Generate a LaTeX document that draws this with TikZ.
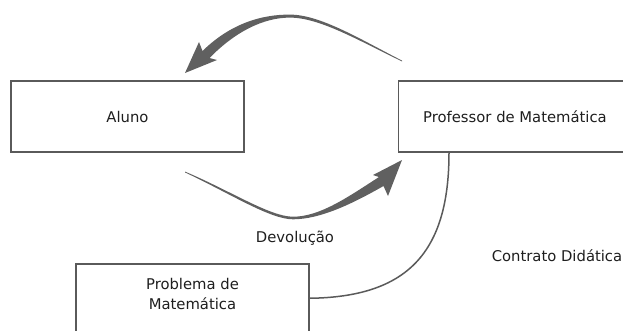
\documentclass[tikz,border=0pt]{standalone}
\usepackage{fontspec}
\setmainfont{DejaVu Sans}
\usetikzlibrary{positioning}
\definecolor{linegray}{HTML}{5A5A5A}
\definecolor{arrowgray}{HTML}{606060}
\definecolor{textgray}{HTML}{1E1E1E}

\begin{document}
\begin{tikzpicture}[x=1pt, y=-1pt, font=\fontsize{14.8}{18}\selectfont, text=textgray, box/.style={draw=linegray, line width=1.5pt, minimum width=233pt, minimum height=71pt}, label/.style={inner sep=0pt}]
\clip (0,0) rectangle (623,330);
\node[box] (aluno) at (127.5,116.5) {Aluno};
\node[box, right=153pt of aluno] (professor) {Professor de Matemática};
\node[box, align=center, anchor=north, minimum height=0pt, inner ysep=0pt, text height=46pt, text depth=23pt] (problema) at (192.5,263) {Problema de\\[2.5pt]Matemática};
\node[label] (devolucao) at (295,238) {Devolução};
\node[label] (contrato) at (557,256) {Contrato Didática};
% tapered arrows
\fill[arrowgray] (402,60.6) .. controls (360,39) and (320,14.6) .. (290,14.6) .. controls (261,14.4) and (230,24) .. (202.5,51) -- (199,42) -- (185,73) -- (217,60) -- (209.5,58) .. controls (235,32) and (263,17.6) .. (290,17.6) .. controls (320,17.6) and (360,41.3) .. (402,61.4) -- cycle;
\fill[arrowgray] (185,171.6) .. controls (230,190.5) and (270,216.7) .. (293,216.7) .. controls (320,216.7) and (348,197) .. (379,177) -- (373,175) -- (402,160) -- (388,196) -- (383.5,186) .. controls (352,204) and (320,219.3) .. (293,219.3) .. controls (270,219.3) and (230,193.5) .. (185,172.4) -- cycle;
\draw[linegray, line width=1.5pt] (professor.south -| 449,0) .. controls (449,253) and (407,297) .. (problema.east);
\end{tikzpicture}
\end{document}
